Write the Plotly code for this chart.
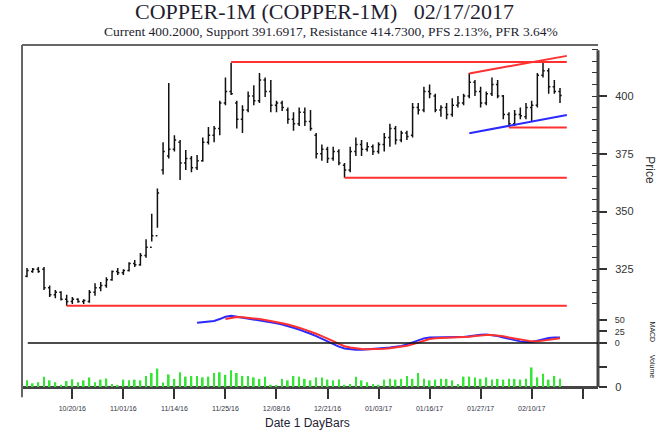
import plotly.graph_objects as go

# ---------------- data ----------------
tick_index = [8, 17, 26, 35, 44, 53, 62, 71, 80, 89, 98]
tick_labels = ["10/20/16", "11/01/16", "11/14/16", "11/25/16", "12/08/16", "12/21/16",
               "01/03/17", "01/16/17", "01/27/17", "02/10/17", ""]

opens = [322, 324, 325, 325, 317, 314, 315, 312, 311, 312, 311, 311, 315, 317, 318, 320.5,
         324, 323.5, 324.5, 327.5, 327, 331, 334.5, 339.5, 368, 374, 377, 380, 371, 373,
         369, 372, 380, 383, 386, 397, 402, 397, 390, 394, 400, 398, 407, 402, 396, 397,
         394, 390, 388, 393, 389, 383, 375, 377, 373, 376, 370, 368, 376, 379, 377, 378,
         376, 379, 382, 386, 381, 384, 383, 395, 394, 402, 400, 394, 395, 392, 396, 397,
         400, 406, 402, 397, 401, 405, 400, 392, 388, 392, 391, 395, 396, 409, 411, 404, 402]
highs = [325.5, 325.5, 326, 326, 318, 316, 315.5, 314, 313, 312.5, 312, 316, 319, 319.5,
         321.5, 324.5, 325.5, 325, 328, 329, 332, 338, 349, 360, 380, 405.6, 383, 381,
         376.6, 374, 374.5, 382, 386.6, 387, 398, 408, 414.4, 398, 396, 402, 404.7, 410,
         408, 407, 398, 398, 395, 393, 395, 395, 394, 384, 379, 378, 378, 377, 371, 378,
         382, 381, 380, 379, 380, 384, 388, 387, 385, 385, 397, 397, 404, 405, 401, 396,
         397, 399, 400, 401, 410, 407, 404, 402, 408, 407, 400.5, 393, 394, 395, 397, 398,
         410, 415, 412, 407, 403.5]
lows = [321.5, 323.5, 323.5, 316, 313, 312.5, 311.5, 309.2, 310, 310.5, 310, 310.5, 313.5,
        315.5, 317, 320, 322.5, 322.5, 324, 326, 326.5, 330, 337, 343, 366, 373, 376,
        363.6, 368, 367, 368, 371.5, 379, 380, 383, 396, 400.4, 386, 384, 393, 396, 397,
        399.6, 393, 393, 393.5, 388, 385, 387, 387, 385, 373, 372, 371, 372, 370, 364.6,
        367, 374, 374, 376, 374.5, 375, 376, 378, 379, 380, 381, 382, 392, 393, 399, 393,
        391, 390, 391, 395, 396, 399, 400, 395, 396, 400, 399, 390, 386.5, 387, 390, 390,
        389, 395, 408, 401, 401, 397]
closes = [324.5, 325, 324, 317, 314, 315, 312, 311, 312, 311, 311.5, 315, 317, 318, 320.5,
          324, 323.5, 324.5, 327.5, 327, 331, 334.5, 339.5, 358, 376, 377, 381, 371, 373,
          369, 372, 380, 383, 386, 397, 402, 401, 390, 394, 400, 398, 407, 402, 396, 397,
          395, 390, 388, 393, 389, 386, 375, 377, 373, 376, 371, 368, 376, 379, 377, 378,
          376, 379, 382, 386, 381, 384, 382.5, 395, 394, 402, 401, 394, 395, 392, 396, 397,
          400, 406, 402, 397, 401, 405, 400, 392, 388, 392, 391.5, 395, 396, 409, 411, 404,
          402, 400.2]

volume = [18, 10, 13, 28, 18, 13, 6, 16, 21, 13, 18, 26, 13, 20, 23, 8, 5, 20, 18, 20,
          18, 30, 38, 50, 12, 34, 22, 40, 28, 30, 30, 26, 28, 38, 40, 33, 45, 38, 30, 30,
          26, 22, 28, 6, 5, 22, 18, 30, 28, 22, 18, 26, 26, 20, 18, 20, 6, 8, 28, 18,
          13, 8, 6, 20, 22, 20, 22, 30, 22, 38, 22, 18, 20, 22, 22, 18, 8, 28, 28, 26,
          22, 26, 20, 22, 20, 22, 22, 20, 22, 53, 26, 36, 20, 30, 22]

macd_start = 30
macd = [44, 45, 46, 48, 52, 57, 59, 57, 55, 53, 51.5, 50, 48, 46, 43, 40, 37, 33, 29, 25,
        20, 15, 9, 3, -3, -8, -12, -14, -14.5, -14.5, -14, -13.5, -12.5, -11, -10, -8.5,
        -6.5, -3, 1, 6, 10, 12, 12.5, 12, 12, 12.5, 13, 13, 15, 17, 18, 18.5, 17.5, 15,
        12, 9, 6, 3.5, 2, 2, 5, 8, 11, 12, 12]
signal_start = 35
signal = [52, 55, 56.5, 56, 55, 53.5, 52, 50, 48, 46, 43, 40, 37, 33, 29, 25, 20, 15, 10,
          4, -2, -7, -10, -12, -13, -13.5, -13.5, -13, -12.5, -11.5, -10, -8.5, -6, -3, 1,
          5, 8.5, 10.5, 11.5, 12, 12, 12.5, 12.5, 13.5, 15, 16.5, 17.5, 17.5, 16.5, 14.5,
          12, 9.5, 7, 5, 3.5, 3.5, 5, 7.5, 9.5, 10.5]

resistance = 414.73
support = 391.6917
level_mid = 364.6
level_low = 309.2
level_short = 386.4
chan_top = [409.8, 417.4]
chan_bot = [383.9, 391.8]

title = "COPPER-1M (COPPER-1M)&nbsp;&nbsp; 02/17/2017"
subtitle = "Current 400.2000, Support 391.6917, Resistance 414.7300, PFS 2.13%, PFR 3.64%"

# ---------------- figure ----------------
idx = list(range(len(closes)))
line_end = 95.2

fig = go.Figure()

fig.add_trace(go.Bar(x=idx, y=volume, yaxis="y3", marker_color="#33e633",
                     marker_line_width=0, width=0.3, showlegend=False))

fig.add_trace(go.Ohlc(x=idx, open=opens, high=highs, low=lows, close=closes,
                      increasing_line_color="#111111", decreasing_line_color="#111111",
                      line_width=1.5, tickwidth=0.3, showlegend=False))

red = "#ff3030"
blue = "#2a2aff"

def hline(x0, y, color):
    fig.add_trace(go.Scatter(x=[x0, line_end], y=[y, y], mode="lines",
                             line=dict(color=color, width=2), showlegend=False))

hline(36, resistance, red)
hline(56, level_mid, red)
hline(7, level_low, red)
hline(85, level_short, red)
fig.add_trace(go.Scatter(x=[78, line_end], y=chan_top, mode="lines",
                         line=dict(color=red, width=2), showlegend=False))
fig.add_trace(go.Scatter(x=[78, line_end], y=chan_bot, mode="lines",
                         line=dict(color=blue, width=2), showlegend=False))

fig.add_trace(go.Scatter(x=list(range(macd_start, macd_start + len(macd))), y=macd,
                         yaxis="y2", mode="lines", line=dict(color=blue, width=2),
                         showlegend=False))
fig.add_trace(go.Scatter(x=list(range(signal_start, signal_start + len(signal))), y=signal,
                         yaxis="y2", mode="lines", line=dict(color=red, width=2),
                         showlegend=False))

tickfont = dict(family="Liberation Sans, Arial, sans-serif", size=11, color="#333333")

fig.update_layout(
    width=662, height=432,
    margin=dict(l=22, r=64, t=45, b=45),
    paper_bgcolor="white", plot_bgcolor="white",
    showlegend=False,
    xaxis=dict(range=[-0.88, 100.7], anchor="free", position=0,
               tickmode="array", tickvals=tick_index, ticktext=tick_labels,
               ticks="outside", ticklen=10, tickwidth=1.5, tickcolor="#333333",
               ticklabelstandoff=4,
               tickfont=dict(family="Liberation Sans, Arial, sans-serif", size=7,
                             color="#334"),
               showline=True, linewidth=3, linecolor="#444444",
               showgrid=False, zeroline=False, rangeslider=dict(visible=False)),
    yaxis=dict(domain=[0.2105, 1], range=[305.2, 422.1], side="right", anchor="x",
               tickmode="array", tickvals=[325, 350, 375, 400],
               ticks="outside", ticklen=8, tickwidth=2, tickcolor="#333333",
               ticklabelstandoff=6,
               minor=dict(dtick=5, ticks="inside", ticklen=6, tickwidth=1,
                          tickcolor="#333333"),
               tickfont=tickfont, showgrid=False, zeroline=False, showline=False),
    yaxis2=dict(domain=[0.0936, 0.2164], range=[-26.1, 65.2], side="right", anchor="x",
                tickmode="array", tickvals=[0, 25, 50],
                ticks="outside", ticklen=8, tickwidth=2, tickcolor="#333333",
                ticklabelstandoff=6,
                tickfont=dict(family="Liberation Sans, Arial, sans-serif", size=9,
                              color="#333333"),
                showgrid=False, zeroline=False, showline=False),
    yaxis3=dict(domain=[0, 0.108], range=[0, 100], side="right", anchor="x",
                tickmode="array", tickvals=[0, 54], ticktext=["0", ""],
                ticks="outside", ticklen=8, tickwidth=2, tickcolor="#333333",
                ticklabelstandoff=6,
                tickfont=tickfont, showgrid=False, zeroline=False, showline=False),
    shapes=[
        dict(type="line", xref="paper", yref="paper", x0=0, x1=0, y0=-0.03, y1=1,
             line=dict(color="#666666", width=2)),
        dict(type="line", xref="paper", yref="paper", x0=0, x1=1, y0=1, y1=1,
             line=dict(color="#666666", width=2)),
        dict(type="line", xref="paper", yref="paper", x0=1, x1=1, y0=0, y1=0.985,
             line=dict(color="#444444", width=3)),
        dict(type="line", xref="paper", yref="y2", x0=0.01, x1=1, y0=0, y1=0,
             line=dict(color="#111111", width=1.5)),
    ],
    annotations=[
        dict(text=title, xref="paper", yref="paper", x=0.526, y=1.0994, showarrow=False,
             font=dict(family="Liberation Serif, Times New Roman, serif", size=22,
                       color="#1e1e30"), xanchor="center", yanchor="middle"),
        dict(text=subtitle, xref="paper", yref="paper", x=0.536, y=1.0395, showarrow=False,
             font=dict(family="Liberation Serif, Times New Roman, serif", size=13.5,
                       color="#1e1e30"), xanchor="center", yanchor="middle"),
        dict(text="Date 1 DayBars", xref="paper", yref="paper", x=0.4965, y=-0.105,
             showarrow=False, font=dict(family="Liberation Sans, Arial, sans-serif",
                                        size=12, color="#223"),
             xanchor="center", yanchor="middle"),
        dict(text="Price", xref="paper", yref="paper", x=1.09, y=0.634, textangle=90,
             showarrow=False, font=dict(family="Liberation Sans, Arial, sans-serif",
                                        size=12, color="#333333"),
             xanchor="center", yanchor="middle"),
        dict(text="MACD", xref="paper", yref="paper", x=1.095, y=0.16, textangle=90,
             showarrow=False, font=dict(family="Liberation Sans, Arial, sans-serif",
                                        size=7, color="#222222"),
             xanchor="center", yanchor="middle"),
        dict(text="Volume", xref="paper", yref="paper", x=1.095, y=0.06, textangle=90,
             showarrow=False, font=dict(family="Liberation Sans, Arial, sans-serif",
                                        size=7, color="#222222"),
             xanchor="center", yanchor="middle"),
    ],
)

# the page body gets no default margin so the figure sits at the window's corner
fig.write_html("out.html", config={"displayModeBar": False},
               post_script="document.body.style.margin='0';")
